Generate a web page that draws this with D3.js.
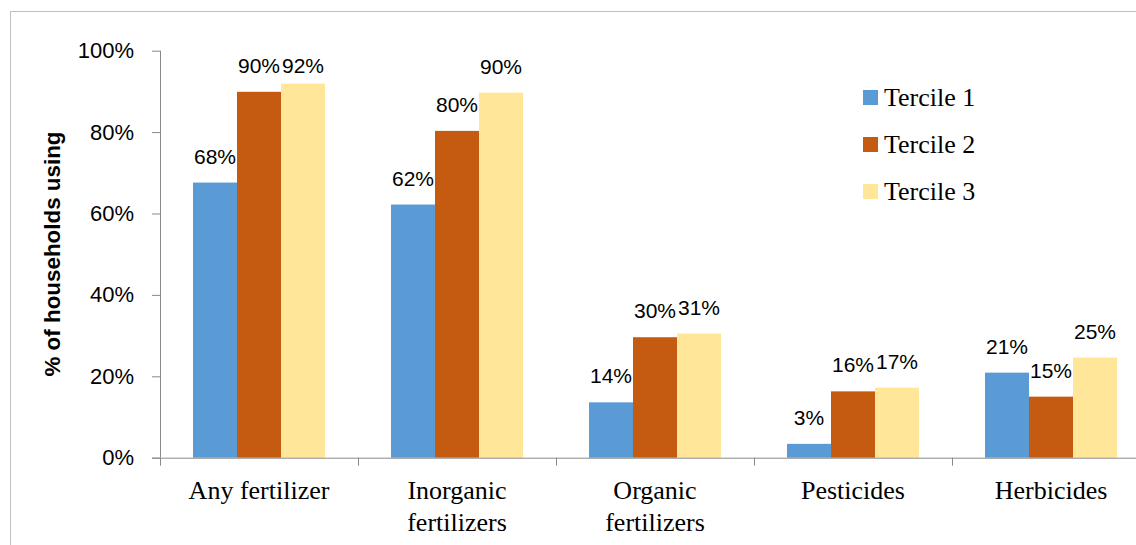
<!DOCTYPE html>
<html>
<head>
<meta charset="utf-8">
<script src="https://cdn.jsdelivr.net/npm/d3@7"></script>
<style>
  body { margin: 0; background: #fff; }
</style>
</head>
<body>
<div id="chart"></div>
<script>
// data
var categories = ["Any fertilizer", "Inorganic fertilizers", "Organic fertilizers", "Pesticides", "Herbicides"];
var series = ["Tercile 1", "Tercile 2", "Tercile 3"];
var tercile1 = [67.6, 62.2, 13.6, 3.4, 20.9];
var tercile2 = [89.9, 80.3, 29.6, 16.3, 15.0];
var tercile3 = [91.9, 89.7, 30.5, 17.2, 24.6];
var labels1 = ["68%", "62%", "14%", "3%", "21%"];
var labels2 = ["90%", "80%", "30%", "16%", "15%"];
var labels3 = ["92%", "90%", "31%", "17%", "25%"];
var yTicks = [0, 20, 40, 60, 80, 100];

var colors = ["#5B9BD5", "#C55A11", "#FFE699"];
var seriesValues = [tercile1, tercile2, tercile3];
var seriesLabels = [labels1, labels2, labels3];

var width = 1136, height = 545;

var svg = d3.select("#chart")
  .append("svg")
  .attr("width", width)
  .attr("height", height);

// chart border
svg.append("rect")
  .attr("x", 10.5)
  .attr("y", 11.5)
  .attr("width", 1150)
  .attr("height", 560)
  .attr("fill", "none")
  .attr("stroke", "#bfbfbf")
  .attr("stroke-width", 1);

var x0 = d3.scaleBand()
  .domain(categories)
  .range([160, 1150]);

var x1 = d3.scaleBand()
  .domain(series)
  .range([0, x0.bandwidth()])
  .paddingOuter(0.75)
  .paddingInner(0);

var y = d3.scaleLinear()
  .domain([0, 100])
  .range([457.7, 50.7]);

// bars
var groups = svg.selectAll("g.cat")
  .data(categories)
  .enter().append("g")
  .attr("class", "cat")
  .attr("transform", function (d) { return "translate(" + x0(d) + ",0)"; });

groups.selectAll("rect")
  .data(function (d, i) {
    return series.map(function (s, j) {
      return { s: s, v: seriesValues[j][i], label: seriesLabels[j][i], c: colors[j] };
    });
  })
  .enter().append("rect")
  .attr("x", function (d) { return x1(d.s); })
  .attr("y", function (d) { return y(d.v); })
  .attr("width", x1.bandwidth())
  .attr("height", function (d) { return y(0) - y(d.v); })
  .attr("fill", function (d) { return d.c; });

groups.selectAll("text.val")
  .data(function (d, i) {
    return series.map(function (s, j) {
      return { s: s, v: seriesValues[j][i], label: seriesLabels[j][i] };
    });
  })
  .enter().append("text")
  .attr("class", "val")
  .attr("x", function (d) { return x1(d.s) + x1.bandwidth() / 2; })
  .attr("y", function (d) { return Math.max(y(d.v) - 19, 73); })
  .attr("text-anchor", "middle")
  .style("font-family", "'Liberation Sans', Arial, sans-serif")
  .style("font-size", "21px")
  .style("fill", "#000")
  .text(function (d) { return d.label; });

// y axis
var yAxis = svg.append("g")
  .attr("transform", "translate(160,0)")
  .call(d3.axisLeft(y)
    .tickValues(yTicks)
    .tickSize(8)
    .tickPadding(18)
    .tickFormat(function (d) { return d + "%"; }));

yAxis.select(".domain").attr("stroke", "#898989").attr("d", "M0.5," + y(100) + "V" + y(0));
yAxis.selectAll(".tick line").attr("stroke", "#898989");
yAxis.selectAll(".tick text")
  .style("font-family", "'Liberation Sans', Arial, sans-serif")
  .style("font-size", "22px")
  .style("fill", "#000");

// x axis: line and ticks at category boundaries
var xAxis = svg.append("g")
  .attr("transform", "translate(0," + y(0) + ")");

xAxis.append("line")
  .attr("x1", 152)
  .attr("x2", 1150)
  .attr("y1", 0.5)
  .attr("y2", 0.5)
  .attr("stroke", "#898989");

xAxis.selectAll("line.tick")
  .data(categories)
  .enter().append("line")
  .attr("class", "tick")
  .attr("x1", function (d) { return Math.round(x0(d)) + 0.5; })
  .attr("x2", function (d) { return Math.round(x0(d)) + 0.5; })
  .attr("y1", 0)
  .attr("y2", 8)
  .attr("stroke", "#898989");

var catLabels = xAxis.selectAll("text.cat")
  .data(categories)
  .enter().append("text")
  .attr("class", "cat")
  .attr("text-anchor", "middle")
  .attr("x", function (d) { return x0(d) + x0.bandwidth() / 2; })
  .attr("y", 41)
  .style("font-family", "'Liberation Serif', 'Times New Roman', serif")
  .style("font-size", "26px")
  .style("fill", "#000");

catLabels.each(function (d) {
  var words = d.split(" ");
  var el = d3.select(this);
  if (d === "Any fertilizer") {
    el.text(d);
  } else if (words.length > 1) {
    el.append("tspan").attr("x", x0(d) + x0.bandwidth() / 2).attr("dy", 0).text(words[0]);
    el.append("tspan").attr("x", x0(d) + x0.bandwidth() / 2).attr("dy", 32).text(words.slice(1).join(" "));
  } else {
    el.text(d);
  }
});

// y axis title
svg.append("text")
  .attr("transform", "translate(60,254) rotate(-90)")
  .attr("text-anchor", "middle")
  .style("font-family", "'Liberation Sans', Arial, sans-serif")
  .style("font-size", "22.4px")
  .style("font-weight", "bold")
  .style("fill", "#000")
  .text("% of households using");

// legend
var legend = svg.selectAll("g.legend")
  .data(series)
  .enter().append("g")
  .attr("class", "legend")
  .attr("transform", function (d, i) { return "translate(863," + (90 + i * 47) + ")"; });

legend.append("rect")
  .attr("width", 15)
  .attr("height", 15)
  .attr("fill", function (d, i) { return colors[i]; });

legend.append("text")
  .attr("x", 21)
  .attr("y", 16)
  .style("font-family", "'Liberation Serif', 'Times New Roman', serif")
  .style("font-size", "26px")
  .style("fill", "#000")
  .text(function (d) { return d; });
</script>
</body>
</html>
